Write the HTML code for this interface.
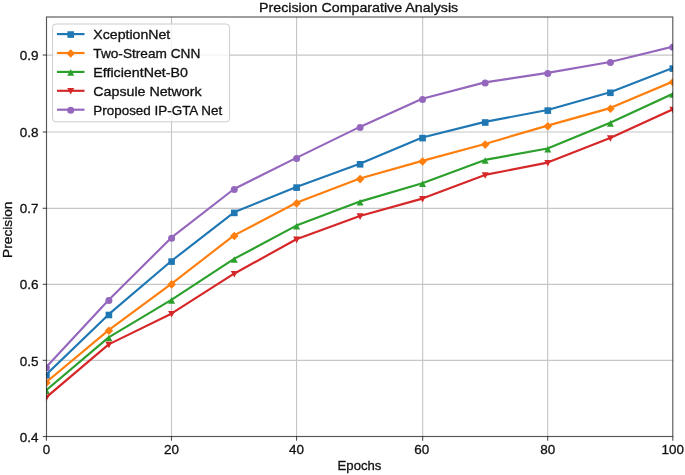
<!DOCTYPE html>
<html><head><meta charset="utf-8"><title>Precision Comparative Analysis</title>
<style>
html,body{margin:0;padding:0;background:#fff;width:685px;height:475px;overflow:hidden}
svg{display:block;will-change:transform}
text{font-family:'Liberation Sans',sans-serif;fill:#111;stroke:#111;stroke-width:0.3px}
</style></head><body>
<svg width="685" height="475" viewBox="0 0 685 475">
<rect width="685" height="475" fill="#fff"/>
<g stroke="#c6c6c6" stroke-width="1.15"><line x1="46.5" y1="360.35" x2="672.8" y2="360.35"/><line x1="46.5" y1="284.35" x2="672.8" y2="284.35"/><line x1="46.5" y1="208.3" x2="672.8" y2="208.3"/><line x1="46.5" y1="132.0" x2="672.8" y2="132.0"/><line x1="46.5" y1="55.05" x2="672.8" y2="55.05"/><line x1="171.5" y1="17.0" x2="171.5" y2="436.5"/><line x1="296.55" y1="17.0" x2="296.55" y2="436.5"/><line x1="422.65" y1="17.0" x2="422.65" y2="436.5"/><line x1="547.65" y1="17.0" x2="547.65" y2="436.5"/></g>
<defs><clipPath id="ax"><rect x="46.5" y="17.0" width="626.3" height="419.5"/></clipPath></defs>
<g clip-path="url(#ax)">
<polyline points="46.15,374.70 108.65,314.40 171.35,261.00 234.05,212.30 296.35,187.00 359.85,163.70 422.30,137.50 484.95,121.90 547.55,110.00 610.15,92.20 672.55,68.00" fill="none" stroke="#1f77b4" stroke-width="2.15" stroke-linejoin="round" stroke-linecap="square"/>
<rect x="43.10" y="372.00" width="6.60" height="6.60" fill="#1f77b4"/><rect x="105.60" y="311.70" width="6.60" height="6.60" fill="#1f77b4"/><rect x="168.30" y="258.30" width="6.60" height="6.60" fill="#1f77b4"/><rect x="231.00" y="209.60" width="6.60" height="6.60" fill="#1f77b4"/><rect x="293.30" y="184.30" width="6.60" height="6.60" fill="#1f77b4"/><rect x="356.80" y="161.00" width="6.60" height="6.60" fill="#1f77b4"/><rect x="419.25" y="134.80" width="6.60" height="6.60" fill="#1f77b4"/><rect x="481.90" y="119.20" width="6.60" height="6.60" fill="#1f77b4"/><rect x="544.50" y="107.30" width="6.60" height="6.60" fill="#1f77b4"/><rect x="607.10" y="89.50" width="6.60" height="6.60" fill="#1f77b4"/><rect x="669.50" y="65.30" width="6.60" height="6.60" fill="#1f77b4"/>
<polyline points="46.15,382.20 108.65,330.10 171.35,283.80 234.05,235.40 296.35,202.80 359.85,178.50 422.30,160.90 484.95,144.00 547.55,125.60 610.15,108.10 672.55,81.70" fill="none" stroke="#ff7f0e" stroke-width="2.15" stroke-linejoin="round" stroke-linecap="square"/>
<path d="M46.40 378.50L50.70 382.80L46.40 387.10L42.10 382.80Z" fill="#ff7f0e"/><path d="M108.90 326.40L113.20 330.70L108.90 335.00L104.60 330.70Z" fill="#ff7f0e"/><path d="M171.60 280.10L175.90 284.40L171.60 288.70L167.30 284.40Z" fill="#ff7f0e"/><path d="M234.30 231.70L238.60 236.00L234.30 240.30L230.00 236.00Z" fill="#ff7f0e"/><path d="M296.60 199.10L300.90 203.40L296.60 207.70L292.30 203.40Z" fill="#ff7f0e"/><path d="M360.10 174.80L364.40 179.10L360.10 183.40L355.80 179.10Z" fill="#ff7f0e"/><path d="M422.55 157.20L426.85 161.50L422.55 165.80L418.25 161.50Z" fill="#ff7f0e"/><path d="M485.20 140.30L489.50 144.60L485.20 148.90L480.90 144.60Z" fill="#ff7f0e"/><path d="M547.80 121.90L552.10 126.20L547.80 130.50L543.50 126.20Z" fill="#ff7f0e"/><path d="M610.40 104.40L614.70 108.70L610.40 113.00L606.10 108.70Z" fill="#ff7f0e"/><path d="M672.80 78.00L677.10 82.30L672.80 86.60L668.50 82.30Z" fill="#ff7f0e"/>
<polyline points="46.15,390.20 108.65,337.40 171.35,299.80 234.05,258.90 296.35,225.60 359.85,201.60 422.30,183.20 484.95,159.90 547.55,148.50 610.15,122.80 672.55,93.90" fill="none" stroke="#2ca02c" stroke-width="2.15" stroke-linejoin="round" stroke-linecap="square"/>
<path d="M46.40 387.50L49.90 394.10L42.90 394.10Z" fill="#2ca02c"/><path d="M108.90 334.70L112.40 341.30L105.40 341.30Z" fill="#2ca02c"/><path d="M171.60 297.10L175.10 303.70L168.10 303.70Z" fill="#2ca02c"/><path d="M234.30 256.20L237.80 262.80L230.80 262.80Z" fill="#2ca02c"/><path d="M296.60 222.90L300.10 229.50L293.10 229.50Z" fill="#2ca02c"/><path d="M360.10 198.90L363.60 205.50L356.60 205.50Z" fill="#2ca02c"/><path d="M422.55 180.50L426.05 187.10L419.05 187.10Z" fill="#2ca02c"/><path d="M485.20 157.20L488.70 163.80L481.70 163.80Z" fill="#2ca02c"/><path d="M547.80 145.80L551.30 152.40L544.30 152.40Z" fill="#2ca02c"/><path d="M610.40 120.10L613.90 126.70L606.90 126.70Z" fill="#2ca02c"/><path d="M672.80 91.20L676.30 97.80L669.30 97.80Z" fill="#2ca02c"/>
<polyline points="46.15,397.40 108.65,344.40 171.35,313.70 234.05,273.70 296.35,239.30 359.85,216.00 422.30,198.60 484.95,174.90 547.55,162.60 610.15,137.90 672.55,109.40" fill="none" stroke="#d62728" stroke-width="2.15" stroke-linejoin="round" stroke-linecap="square"/>
<path d="M46.40 401.30L49.90 394.70L42.90 394.70Z" fill="#d62728"/><path d="M108.90 348.30L112.40 341.70L105.40 341.70Z" fill="#d62728"/><path d="M171.60 317.60L175.10 311.00L168.10 311.00Z" fill="#d62728"/><path d="M234.30 277.60L237.80 271.00L230.80 271.00Z" fill="#d62728"/><path d="M296.60 243.20L300.10 236.60L293.10 236.60Z" fill="#d62728"/><path d="M360.10 219.90L363.60 213.30L356.60 213.30Z" fill="#d62728"/><path d="M422.55 202.50L426.05 195.90L419.05 195.90Z" fill="#d62728"/><path d="M485.20 178.80L488.70 172.20L481.70 172.20Z" fill="#d62728"/><path d="M547.80 166.50L551.30 159.90L544.30 159.90Z" fill="#d62728"/><path d="M610.40 141.80L613.90 135.20L606.90 135.20Z" fill="#d62728"/><path d="M672.80 113.30L676.30 106.70L669.30 106.70Z" fill="#d62728"/>
<polyline points="46.15,367.20 108.65,300.00 171.35,237.70 234.05,189.00 296.35,157.90 359.85,126.90 422.30,98.80 484.95,82.40 547.55,72.90 610.15,62.00 672.55,46.70" fill="none" stroke="#9467bd" stroke-width="2.15" stroke-linejoin="round" stroke-linecap="square"/>
<circle cx="46.40" cy="367.80" r="3.50" fill="#9467bd"/><circle cx="108.90" cy="300.60" r="3.50" fill="#9467bd"/><circle cx="171.60" cy="238.30" r="3.50" fill="#9467bd"/><circle cx="234.30" cy="189.60" r="3.50" fill="#9467bd"/><circle cx="296.60" cy="158.50" r="3.50" fill="#9467bd"/><circle cx="360.10" cy="127.50" r="3.50" fill="#9467bd"/><circle cx="422.55" cy="99.40" r="3.50" fill="#9467bd"/><circle cx="485.20" cy="83.00" r="3.50" fill="#9467bd"/><circle cx="547.80" cy="73.50" r="3.50" fill="#9467bd"/><circle cx="610.40" cy="62.60" r="3.50" fill="#9467bd"/><circle cx="672.80" cy="47.30" r="3.50" fill="#9467bd"/>
</g>
<rect x="46.5" y="17.0" width="626.3" height="419.5" fill="none" stroke="#000" stroke-opacity="0.66" stroke-width="1.15"/>
<g stroke="#000" stroke-opacity="0.66" stroke-width="1.15"><line x1="42.7" y1="436.5" x2="46.5" y2="436.5"/><line x1="42.7" y1="360.35" x2="46.5" y2="360.35"/><line x1="42.7" y1="284.35" x2="46.5" y2="284.35"/><line x1="42.7" y1="208.3" x2="46.5" y2="208.3"/><line x1="42.7" y1="132.0" x2="46.5" y2="132.0"/><line x1="42.7" y1="55.05" x2="46.5" y2="55.05"/><line x1="46.4" y1="436.5" x2="46.4" y2="440.7"/><line x1="171.5" y1="436.5" x2="171.5" y2="440.7"/><line x1="296.55" y1="436.5" x2="296.55" y2="440.7"/><line x1="422.65" y1="436.5" x2="422.65" y2="440.7"/><line x1="547.65" y1="436.5" x2="547.65" y2="440.7"/><line x1="672.8" y1="436.5" x2="672.8" y2="440.7"/></g>
<text x="38.6" y="442.05" font-size="12.8" text-anchor="end" textLength="18.8" lengthAdjust="spacingAndGlyphs">0.4</text>
<text x="38.6" y="365.90" font-size="12.8" text-anchor="end" textLength="18.8" lengthAdjust="spacingAndGlyphs">0.5</text>
<text x="38.6" y="289.10" font-size="12.8" text-anchor="end" textLength="18.8" lengthAdjust="spacingAndGlyphs">0.6</text>
<text x="38.6" y="213.05" font-size="12.8" text-anchor="end" textLength="18.8" lengthAdjust="spacingAndGlyphs">0.7</text>
<text x="38.6" y="136.80" font-size="12.8" text-anchor="end" textLength="18.8" lengthAdjust="spacingAndGlyphs">0.8</text>
<text x="38.6" y="60.40" font-size="12.8" text-anchor="end" textLength="18.8" lengthAdjust="spacingAndGlyphs">0.9</text>
<text x="42.70" y="453.7" font-size="12.8" textLength="7.4" lengthAdjust="spacingAndGlyphs">0</text>
<text x="164.00" y="453.7" font-size="12.8" textLength="15.0" lengthAdjust="spacingAndGlyphs">20</text>
<text x="289.05" y="453.7" font-size="12.8" textLength="15.0" lengthAdjust="spacingAndGlyphs">40</text>
<text x="414.35" y="453.7" font-size="12.8" textLength="15.0" lengthAdjust="spacingAndGlyphs">60</text>
<text x="540.15" y="453.7" font-size="12.8" textLength="15.0" lengthAdjust="spacingAndGlyphs">80</text>
<text x="661.60" y="453.7" font-size="12.8" textLength="22.4" lengthAdjust="spacingAndGlyphs">100</text>
<text x="259.0" y="11.5" font-size="12.8" textLength="199.2" lengthAdjust="spacingAndGlyphs">Precision Comparative Analysis</text>
<text x="337.6" y="469.8" font-size="12.8" textLength="43.8" lengthAdjust="spacingAndGlyphs">Epochs</text>
<text transform="translate(12.1,257.9) rotate(-90)" x="0" y="0" font-size="12.8" textLength="56.3" lengthAdjust="spacingAndGlyphs">Precision</text>
<rect x="52.6" y="24.0" width="177.0" height="97.8" rx="3.4" ry="3.4" fill="#fff" fill-opacity="0.8" stroke="#cccccc" stroke-width="1"/>
<line x1="57.0" y1="34.10" x2="84.5" y2="34.10" stroke="#1f77b4" stroke-width="2.15"/><rect x="67.40" y="31.25" width="6.60" height="6.60" fill="#1f77b4"/><text x="93.3" y="38.90" font-size="12.8" textLength="77.0" lengthAdjust="spacingAndGlyphs">XceptionNet</text>
<line x1="57.0" y1="53.00" x2="84.5" y2="53.00" stroke="#ff7f0e" stroke-width="2.15"/><path d="M70.70 49.15L75.00 53.45L70.70 57.75L66.40 53.45Z" fill="#ff7f0e"/><text x="93.3" y="57.80" font-size="12.8" textLength="107.0" lengthAdjust="spacingAndGlyphs">Two-Stream CNN</text>
<line x1="57.0" y1="71.90" x2="84.5" y2="71.90" stroke="#2ca02c" stroke-width="2.15"/><path d="M70.70 69.05L74.20 75.65L67.20 75.65Z" fill="#2ca02c"/><text x="93.3" y="76.70" font-size="12.8" textLength="94.6" lengthAdjust="spacingAndGlyphs">EfficientNet-B0</text>
<line x1="57.0" y1="90.80" x2="84.5" y2="90.80" stroke="#d62728" stroke-width="2.15"/><path d="M70.70 94.55L74.20 87.95L67.20 87.95Z" fill="#d62728"/><text x="93.3" y="95.60" font-size="12.8" textLength="108.3" lengthAdjust="spacingAndGlyphs">Capsule Network</text>
<line x1="57.0" y1="109.70" x2="84.5" y2="109.70" stroke="#9467bd" stroke-width="2.15"/><circle cx="70.70" cy="110.15" r="3.50" fill="#9467bd"/><text x="93.3" y="114.50" font-size="12.8" textLength="128.9" lengthAdjust="spacingAndGlyphs">Proposed IP-GTA Net</text>
</svg>
</body></html>
